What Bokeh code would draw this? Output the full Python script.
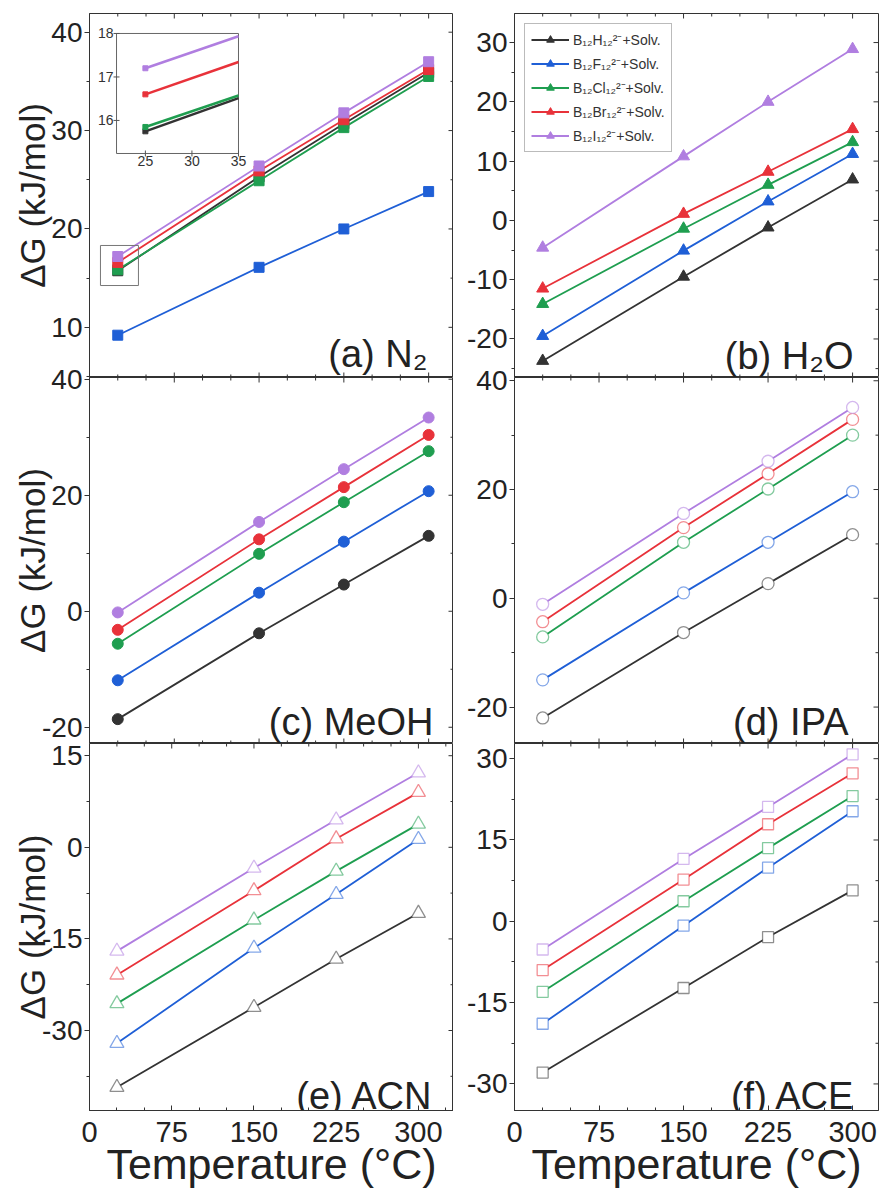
import numpy as np
from bokeh.plotting import figure
from bokeh.layouts import column, row
from bokeh.models import (Range1d, LinearAxis, FixedTicker, Legend,
                          LegendItem, LinearScale)
from bokeh.embed import file_html
from bokeh.resources import INLINE
from bokeh.core.properties import value

# ---------------- data ----------------
temperature = [25, 150, 225, 300]
species = ["B₁₂H₁₂²⁻+Solv.", "B₁₂F₁₂²⁻+Solv.", "B₁₂Cl₁₂²⁻+Solv.",
           "B₁₂Br₁₂²⁻+Solv.", "B₁₂I₁₂²⁻+Solv."]

# (a) N2
n2_h = [15.75, 25.3, 30.7, 35.9]
n2_f = [9.2, 16.1, 20.0, 23.8]
n2_cl = [15.85, 24.9, 30.3, 35.5]
n2_br = [16.6, 25.9, 31.1, 36.2]
n2_i = [17.2, 26.4, 31.8, 37.0]
# (b) H2O
h2o_h = [-23.7, -9.5, -1.2, 6.9]
h2o_f = [-19.5, -5.1, 3.2, 11.2]
h2o_cl = [-14.1, -1.4, 6.0, 13.2]
h2o_br = [-11.5, 1.1, 8.2, 15.4]
h2o_i = [-4.6, 10.8, 20.0, 28.9]
# (c) MeOH
meoh_h = [-18.6, -3.8, 4.6, 13.0]
meoh_f = [-11.9, 3.2, 12.0, 20.7]
meoh_cl = [-5.6, 9.9, 18.8, 27.6]
meoh_br = [-3.2, 12.4, 21.4, 30.4]
meoh_i = [-0.2, 15.4, 24.5, 33.4]
# (d) IPA
ipa_h = [-22.0, -6.3, 2.7, 11.7]
ipa_f = [-15.0, 1.0, 10.3, 19.6]
ipa_cl = [-7.1, 10.3, 20.1, 30.0]
ipa_br = [-4.3, 13.0, 22.9, 32.9]
ipa_i = [-1.1, 15.6, 25.2, 35.1]
# (e) ACN
acn_h = [-39.3, -26.2, -18.3, -10.8]
acn_f = [-32.1, -16.5, -7.7, 1.3]
acn_cl = [-25.6, -11.9, -3.9, 3.8]
acn_br = [-20.9, -7.1, 1.4, 9.0]
acn_i = [-17.0, -3.4, 4.5, 12.2]
# (f) ACE
ace_h = [-27.9, -12.3, -2.9, 5.7]
ace_f = [-18.9, -0.8, 9.9, 20.3]
ace_cl = [-13.0, 3.7, 13.5, 23.1]
ace_br = [-9.0, 7.7, 17.9, 27.3]
ace_i = [-5.2, 11.5, 21.1, 30.8]

x_ticks = [0, 75, 150, 225, 300]
x_minor = [25, 50, 100, 125, 175, 200, 250, 275, 325]
panel_labels = ["(a) N₂", "(b) H₂O", "(c) MeOH", "(d) IPA", "(e) ACN", "(f) ACE"]
y_title = "ΔG (kJ/mol)"
x_title = "Temperature (°C)"
inset_x_ticks = [25, 30, 35]
inset_y_ticks = [16, 17, 18]

# ---------------- style ----------------
FONT = "Liberation Sans"
INK = "#333333"
TXT = "#222222"
colors = ["#333333", "#1f5fd6", "#1f9e50", "#e8323a", "#b07ee0"]
FW = 364
FH = [364, 366, 367]
OVERLAP = [0, 14, 3]  # rows overlap so tick labels on a row's top edge are not cut


def edge_ticks(p, xs, ys, size, angle=0.0):
    p.scatter(xs, ys, marker="dash", size=size, angle=angle,
              line_color=INK, line_width=1)


def make_panel(series, marker, filled, msize, x_end, y_range, yticks, yminor,
               label, col, rowi, lab_dx, lab_dy, ytitle_standoff=0):
    left = col == 0
    last = rowi == 2
    y0, y1 = y_range
    p = figure(frame_width=FW, frame_height=FH[rowi],
               x_range=Range1d(0, x_end), y_range=Range1d(y0, y1),
               x_axis_location=None, y_axis_location=None,
               output_backend="svg", toolbar_location=None,
               min_border_left=89 if left else 61,
               min_border_right=0 if left else 2,
               min_border_top=13 if rowi == 0 else OVERLAP[rowi],
               min_border_bottom=81 if last else 0,
               background_fill_color="white", border_fill_color="white",
               border_fill_alpha=1 if rowi == 0 else 0)
    p.outline_line_color = INK
    p.outline_line_width = 1
    p.grid.visible = False

    # left axis
    ya = LinearAxis(ticker=FixedTicker(ticks=yticks, minor_ticks=yminor))
    ya.major_label_overrides = {t: str(t) for t in yticks}
    ya.major_tick_out = 5
    ya.major_tick_in = 0
    ya.minor_tick_out = 3
    ya.minor_tick_in = 0
    ya.axis_line_color = INK
    ya.major_tick_line_color = INK
    ya.minor_tick_line_color = INK
    ya.major_label_text_font = FONT
    ya.major_label_text_font_size = "28px"
    ya.major_label_text_color = TXT
    ya.major_label_standoff = 2
    if left:
        ya.axis_label = y_title
        ya.axis_label_text_font = FONT
        ya.axis_label_text_font_size = "35px"
        ya.axis_label_text_font_style = "normal"
        ya.axis_label_text_color = TXT
        ya.axis_label_standoff = ytitle_standoff
    p.add_layout(ya, "left")

    if last:
        xb = LinearAxis(ticker=FixedTicker(ticks=x_ticks, minor_ticks=x_minor))
        xb.major_tick_in = 5
        xb.major_tick_out = 0
        xb.minor_tick_in = 3
        xb.minor_tick_out = 0
        xb.axis_line_color = INK
        xb.major_tick_line_color = INK
        xb.minor_tick_line_color = INK
        xb.major_label_text_font = FONT
        xb.major_label_text_font_size = "29px"
        xb.major_label_text_color = TXT
        xb.major_label_standoff = 11
        xb.axis_label = x_title
        xb.axis_label_text_font = FONT
        xb.axis_label_text_font_size = "43px"
        xb.axis_label_text_font_style = "normal"
        xb.axis_label_text_color = TXT
        xb.axis_label_standoff = -5
        p.add_layout(xb, "below")
    else:
        # inward ticks on the bottom edge (half of each dash is clipped away)
        edge_ticks(p, x_ticks, [y0] * len(x_ticks), 10, np.pi / 2)
        edge_ticks(p, x_minor, [y0] * len(x_minor), 6, np.pi / 2)

    # inward ticks on top and right edges
    edge_ticks(p, x_ticks, [y1] * len(x_ticks), 10, np.pi / 2)
    edge_ticks(p, x_minor, [y1] * len(x_minor), 6, np.pi / 2)
    edge_ticks(p, [x_end] * len(yticks), yticks, 10)
    edge_ticks(p, [x_end] * len(yminor), yminor, 6)

    items = []
    for s, c, name in zip(series, colors, species):
        lr = p.line(temperature, s, line_color=c, line_width=1.8)
        if filled:
            sr = p.scatter(temperature, s, marker=marker, size=msize,
                           fill_color=c, line_color=c)
        else:
            sr = p.scatter(temperature, s, marker=marker, size=msize,
                           fill_color="white", line_color=c, line_alpha=0.55,
                           line_width=1.3)
        items.append(LegendItem(label=name, renderers=[lr, sr]))

    # panel label anchored at the bottom-right corner of the frame
    p.text([x_end], [y0], text=[label], x_offset=-lab_dx, y_offset=-lab_dy,
           text_align="right", text_baseline="alphabetic",
           text_font=value(FONT), text_font_size="38px", text_color=TXT)
    return p, items


pa, items_a = make_panel([n2_h, n2_f, n2_cl, n2_br, n2_i], "square", True, 10,
                         322, (4.9, 41.9), [10, 20, 30, 40], [5, 15, 25, 35],
                         panel_labels[0], 0, 0, 26, 24, ytitle_standoff=-4)
pb, items_b = make_panel([h2o_h, h2o_f, h2o_cl, h2o_br, h2o_i], "triangle", True, 12,
                         323, (-26.5, 34.9), [-20, -10, 0, 10, 20, 30],
                         [-25, -15, -5, 5, 15, 25], panel_labels[1], 1, 0, 25, 22)
pc, _ = make_panel([meoh_h, meoh_f, meoh_cl, meoh_br, meoh_i], "circle", True, 11,
                   322, (-22.8, 40.3), [-20, 0, 20, 40], [-10, 10, 30],
                   panel_labels[2], 0, 1, 20, 22, ytitle_standoff=-13)
pd_, _ = make_panel([ipa_h, ipa_f, ipa_cl, ipa_br, ipa_i], "circle", False, 12,
                    323, (-26.7, 40.6), [-20, 0, 20, 40], [-10, 10, 30],
                    panel_labels[3], 1, 1, 30, 22)
pe, _ = make_panel([acn_h, acn_f, acn_cl, acn_br, acn_i], "triangle", False, 14,
                   332, (-43.1, 17.0), [-30, -15, 0, 15], [-37.5, -22.5, -7.5, 7.5],
                   panel_labels[4], 0, 2, 20, 15, ytitle_standoff=-13)
pf, _ = make_panel([ace_h, ace_f, ace_cl, ace_br, ace_i], "square", False, 11,
                   323, (-34.9, 32.8), [-30, -15, 0, 15, 30],
                   [-22.5, -7.5, 7.5, 22.5], panel_labels[5], 1, 2, 23, 15)

# legend in (b)
legend = Legend(items=items_b, location="top_left")
legend.margin = 10
legend.border_line_color = "#777777"
legend.border_line_width = 1
legend.background_fill_color = "white"
legend.background_fill_alpha = 1
legend.label_text_font = FONT
legend.label_text_font_size = "14px"
legend.label_text_color = "#333333"
legend.glyph_width = 38
legend.glyph_height = 19
legend.label_height = 19
legend.label_standoff = 4
legend.spacing = 5
legend.padding = 6
pb.add_layout(legend)

# zoom box around the 25 °C points in (a)
zoom_box = dict(left=9.7, right=43.3, bottom=14.25, top=18.32)
pa.quad(left=[zoom_box["left"]], right=[zoom_box["right"]],
        bottom=[zoom_box["bottom"]], top=[zoom_box["top"]],
        fill_alpha=0, line_color="#777777", line_width=1)

# inset in (a)
inset_x = Range1d(21.9, 35.0)
inset_y = Range1d(15.24, 18.0)
sub = pa.subplot(x_source=inset_x, y_source=inset_y,
                 x_scale=LinearScale(), y_scale=LinearScale(),
                 x_target=Range1d(23.9, 131.8), y_target=Range1d(27.67, 39.87))
sub.quad(left=[inset_x.start], right=[inset_x.end], bottom=[inset_y.start],
         top=[inset_y.end], fill_color="white", line_color="#666666", line_width=1)
inset_series = [n2_h, n2_cl, n2_br, n2_i]
inset_colors = [colors[0], colors[2], colors[3], colors[4]]
for s, c in zip(inset_series, inset_colors):
    xs = [temperature[0], inset_x.end]
    ys = list(np.interp(xs, temperature, s))  # clip the segment at the inset edge
    sub.line(xs, ys, line_color=c, line_width=2.5)
    sub.scatter([temperature[0]], [s[0]], marker="square", size=5,
                fill_color=c, line_color=c)
sub.scatter(inset_x_ticks, [inset_y.start] * 3, marker="dash", angle=np.pi / 2,
            size=6, line_color="#555555")
sub.scatter([inset_x.start] * 3, inset_y_ticks, marker="dash", size=6,
            line_color="#555555")
sub.text(inset_x_ticks, [inset_y.start] * 3, text=[str(t) for t in inset_x_ticks],
         text_align="center", text_baseline="top", y_offset=3,
         text_font=value(FONT), text_font_size="14px", text_color="#333333")
sub.text([inset_x.start] * 3, inset_y_ticks, text=[str(t) for t in inset_y_ticks],
         text_align="right", text_baseline="middle", x_offset=-3,
         text_font=value(FONT), text_font_size="14px", text_color="#333333")

layout = column(row(pa, pb),
                row(pc, pd_, margin=(-OVERLAP[1], 0, 0, 0)),
                row(pe, pf, margin=(-OVERLAP[2], 0, 0, 0)))
open("out.html", "w").write(file_html(layout, INLINE))
